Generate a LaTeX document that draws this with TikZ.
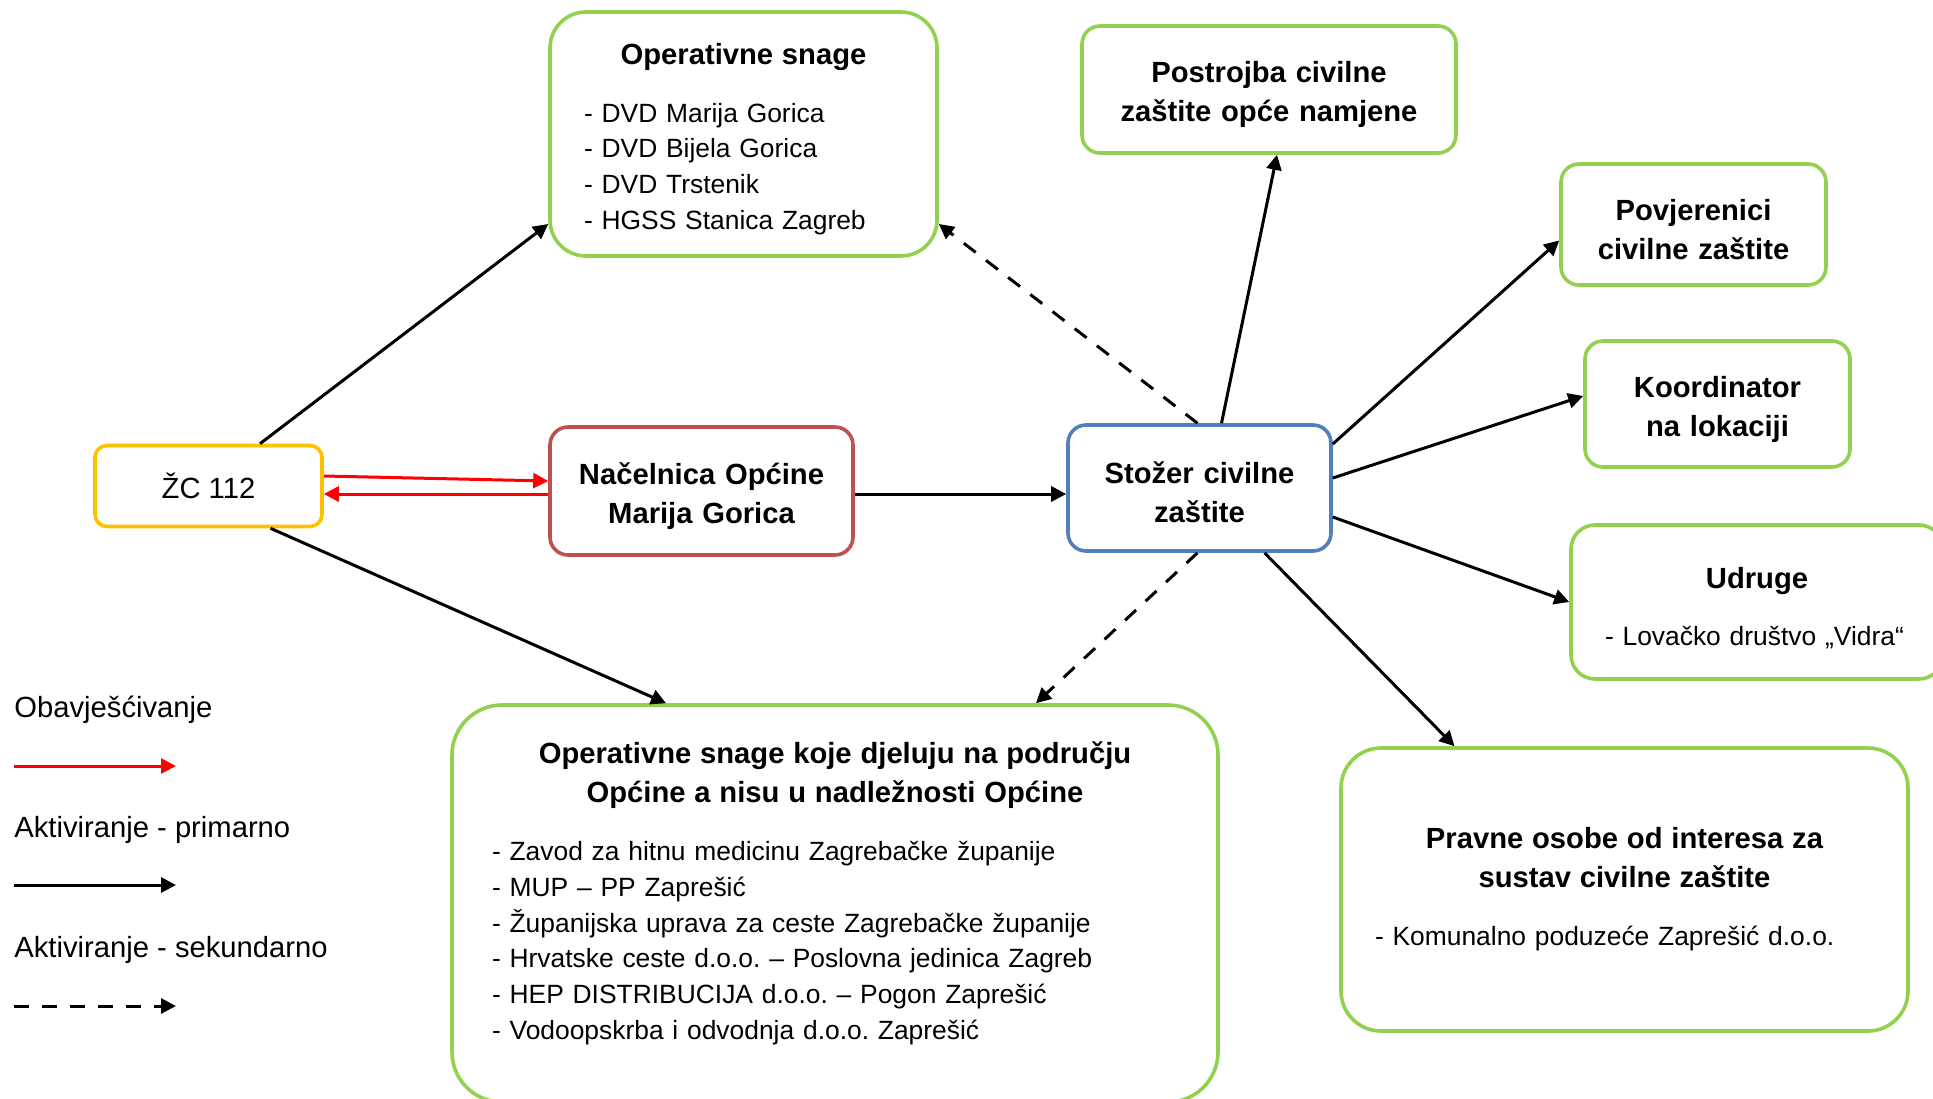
\documentclass[tikz,border=0pt]{standalone}
\usepackage{fontspec}
\setmainfont{Liberation Sans}
\usetikzlibrary{positioning,arrows.meta,calc}
\setlength{\parindent}{0pt}
\frenchspacing

\definecolor{zcyellow}{HTML}{FFC000}
\definecolor{nacred}{HTML}{C0504D}
\definecolor{stblue}{HTML}{4F81BD}
\definecolor{opgreen}{HTML}{92D050}

\newcommand{\boxhead}[1]{{\centering\bfseries\fontsize{14.6}{19.5}\selectfont #1\par}\vspace{11pt}}
\newcommand{\boxtail}[1]{\par\vspace{#1}\nointerlineskip\hbox{}}

\begin{document}
\begin{tikzpicture}[
			x=0.5pt, y=-0.5pt,
			font=\fontsize{14.6}{17.6}\selectfont,
			box/.style = {draw, line width=1.8pt, fill=white, inner sep=0pt, rounded corners=9pt},
			main/.style = {box, align=center, font=\fontsize{14.6}{19.5}\selectfont\bfseries},
			listbox/.style = {box, draw=opgreen, inner xsep=17pt, align=left, font=\fontsize{13.2}{17.9}\selectfont},
			prim/.style = {-{Triangle[length=7.5pt,width=7.5pt]}, line width=1.5pt},
			sec/.style = {prim, dash pattern=on 7.5pt off 6.5pt},
			info/.style = {prim, red}
		]
		\useasboundingbox (0,0) rectangle (1933,1098);
		% Left side.
		\node[main, draw=zcyellow, rounded corners=6pt, font=\fontsize{14.6}{19}\selectfont,
			minimum width=113.5pt, minimum height=40.5pt] (zc) at (208.5,486) {ŽC 112};
		\node[main, draw=nacred, text width=151.5pt, minimum height=64pt] (nac) at (701.5,491) {Načelnica Općine\\Marija Gorica\boxtail{-5pt}};
		\node[main, draw=stblue, text width=131.5pt, minimum height=63pt] (stozer) at (1199.5,488) {Stožer civilne\\zaštite\boxtail{-4pt}};
		% Top.
		\node[listbox, rounded corners=18pt, text width=159.5pt, minimum height=122pt] (ops) at (743.5,134)
			{\boxhead{Operativne snage}- DVD Marija Gorica\\- DVD Bijela Gorica\\- DVD Trstenik\\- HGSS Stanica Zagreb\boxtail{-5pt}};
		\node[main, draw=opgreen, text width=187pt, minimum height=63.5pt] (pcz) at (1269,89.5) {Postrojba civilne\\zaštite opće namjene\boxtail{-5pt}};
		% Right side.
		\node[main, draw=opgreen, text width=132.5pt, minimum height=60.5pt] (povj) at (1693.5,224.5) {Povjerenici\\civilne zaštite\boxtail{-5pt}};
		\node[main, draw=opgreen, text width=132.5pt, minimum height=63pt] (koord) at (1717.5,404) {Koordinator\\na lokaciji\boxtail{-5pt}};
		\node[listbox, rounded corners=12pt, text width=152pt, minimum height=77pt] (udruge) at (1757,602)
			{\boxhead{Udruge}- Lovačko društvo „Vidra“\boxtail{-6pt}};
		% Bottom.
		\node[listbox, inner xsep=20pt, rounded corners=25pt, text width=343pt, minimum height=198.5pt] (osnage) at (835,903.5)
			{\boxhead{Operativne snage koje djeluju na području\\Općine a nisu u nadležnosti Općine}- Zavod za hitnu medicinu Zagrebačke županije\\- MUP – PP Zaprešić\\- Županijska uprava za ceste Zagrebačke županije\\- Hrvatske ceste d.o.o. – Poslovna jedinica Zagreb\\- HEP DISTRIBUCIJA d.o.o. – Pogon Zaprešić\\- Vodoopskrba i odvodnja d.o.o. Zaprešić\boxtail{10pt}};
		\node[listbox, rounded corners=20pt, text width=249.5pt, minimum height=141.5pt] (pravne) at (1624.5,889.5)
			{\boxhead{Pravne osobe od interesa za\\sustav civilne zaštite}- Komunalno poduzeće Zaprešić d.o.o.};
		% Legend.
		\node[anchor=west, inner sep=0pt] (leg1) at (14,710) {Obavješćivanje};
		\node[anchor=west, inner sep=0pt] (leg2) at (14,830) {Aktiviranje - primarno};
		\node[anchor=west, inner sep=0pt] (leg3) at (14,950) {Aktiviranje - sekundarno};
		\coordinate (l1a) at (14,766); \coordinate (l1b) at (176,766);
		\coordinate (l2a) at (14,885); \coordinate (l2b) at (176,885);
		\coordinate (l3a) at (14,1006); \coordinate (l3b) at (176,1006);
		
		\draw[info] (l1a) -- (l1b);
		\draw[prim] (l2a) -- (l2b);
		\draw[sec] (l3a) -- (l3b);
		\draw[info] ($(zc.east)+(0,-10)$) -- ($(nac.west)+(0,-10)$);
		\draw[info] ($(nac.west)+(0,3)$) -- ($(zc.east)+(0,8)$);
		\draw[prim] ($(zc.north)+(51.5,0)$) -- ($(ops.west)+(0,90)$);
		\draw[prim] ($(zc.south)+(62,0)$) -- ($(osnage.north)+(-169,0)$);
		\draw[prim] ($(nac.east)+(0,3)$) -- ($(stozer.west)+(0,6)$);
		\draw[sec] ($(stozer.north)+(-2,0)$) -- ($(ops.east)+(0,90)$);
		\draw[prim] ($(stozer.north)+(22,0)$) -- ($(pcz.south)+(8,0)$);
		\draw[prim] ($(stozer.east)+(0,-44)$) -- ($(povj.west)+(0,16)$);
		\draw[prim] ($(stozer.east)+(0,-10)$) -- ($(koord.west)+(0,-8)$);
		\draw[prim] ($(stozer.east)+(0,29)$) -- (udruge.west);
		\draw[prim] ($(stozer.south)+(65,0)$) -- ($(pravne.north)+(-170,0)$);
		\draw[sec] ($(stozer.south)+(-2,0)$) -- ($(osnage.north)+(201,0)$);
	\end{tikzpicture}
\end{document}
